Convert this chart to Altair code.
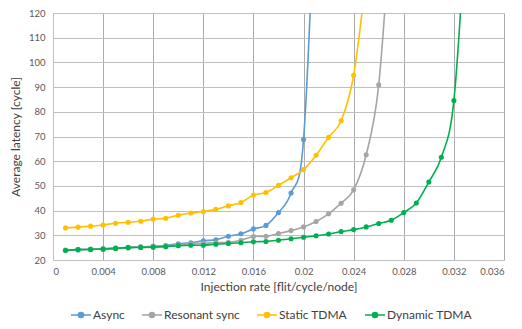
import altair as alt
import pandas as pd

series_names = ["Async", "Resonant sync", "Static TDMA", "Dynamic TDMA"]
series_colors = ["#5B9BD5", "#A5A5A5", "#FFC000", "#00B050"]

async_rate = [0.001, 0.002, 0.003, 0.004, 0.005, 0.006, 0.007, 0.008, 0.009, 0.010,
              0.011, 0.012, 0.013, 0.014, 0.015, 0.016, 0.017, 0.018, 0.019, 0.020, 0.021]
async_lat = [23.9, 24.2, 24.3, 24.5, 24.8, 25.1, 25.3, 25.6, 25.9, 26.6,
             27.0, 27.8, 28.2, 29.6, 30.6, 32.6, 34.0, 39.2, 47.1, 68.8, 180]

reso_rate = [0.001, 0.002, 0.003, 0.004, 0.005, 0.006, 0.007, 0.008, 0.009, 0.010,
             0.011, 0.012, 0.013, 0.014, 0.015, 0.016, 0.017, 0.018, 0.019, 0.020,
             0.021, 0.022, 0.023, 0.024, 0.025, 0.026, 0.027]
reso_lat = [23.9, 24.2, 24.3, 24.5, 24.7, 25.0, 25.2, 25.4, 25.7, 26.2,
            26.6, 26.8, 27.0, 27.2, 28.0, 29.5, 29.6, 30.7, 31.9, 33.4,
            35.6, 38.7, 43.0, 48.4, 62.6, 90.9, 160]

static_rate = [0.001, 0.002, 0.003, 0.004, 0.005, 0.006, 0.007, 0.008, 0.009, 0.010,
               0.011, 0.012, 0.013, 0.014, 0.015, 0.016, 0.017, 0.018, 0.019, 0.020,
               0.021, 0.022, 0.023, 0.024, 0.025]
static_lat = [33.0, 33.3, 33.7, 34.2, 34.9, 35.3, 35.7, 36.6, 36.9, 38.1,
              39.0, 39.6, 40.5, 41.9, 43.3, 46.3, 47.3, 50.2, 53.3, 56.6,
              62.4, 69.7, 76.4, 94.8, 135]

dyn_rate = [0.001, 0.002, 0.003, 0.004, 0.005, 0.006, 0.007, 0.008, 0.009, 0.010,
            0.011, 0.012, 0.013, 0.014, 0.015, 0.016, 0.017, 0.018, 0.019, 0.020,
            0.021, 0.022, 0.023, 0.024, 0.025, 0.026, 0.027, 0.028, 0.029, 0.030,
            0.031, 0.032, 0.033]
dyn_lat = [23.9, 24.2, 24.3, 24.4, 24.7, 25.0, 25.1, 25.2, 25.4, 25.8,
           26.0, 26.0, 26.4, 26.7, 27.0, 27.4, 27.5, 28.0, 28.6, 29.2,
           29.8, 30.5, 31.5, 32.3, 33.4, 34.8, 36.1, 39.2, 43.1, 51.6,
           61.6, 84.6, 160]

x_ticks = [0, 0.004, 0.008, 0.012, 0.016, 0.02, 0.024, 0.028, 0.032, 0.036]
y_ticks = [20, 30, 40, 50, 60, 70, 80, 90, 100, 110, 120]

all_series = [
    ("Async", async_rate, async_lat),
    ("Resonant sync", reso_rate, reso_lat),
    ("Static TDMA", static_rate, static_lat),
    ("Dynamic TDMA", dyn_rate, dyn_lat),
]

FONT = "Lato"

x_enc = alt.X("rate:Q",
              scale=alt.Scale(domain=[0, 0.036], nice=False),
              axis=alt.Axis(values=x_ticks, format="~f",
                            title="Injection rate [flit/cycle/node]"))
y_enc = alt.Y("lat:Q",
              scale=alt.Scale(domain=[20, 120], nice=False, zero=False),
              axis=alt.Axis(values=y_ticks, title="Average latency [cycle]"))
color_enc = alt.Color("series:N",
                      scale=alt.Scale(domain=series_names, range=series_colors),
                      legend=alt.Legend(
                          title=None, orient="none", direction="horizontal",
                          legendX=22, legendY=296,
                          symbolType="M-2,0L2,0M-0.5,0A0.5,0.5 0 1,1 0.5,0A0.5,0.5 0 1,1 -0.5,0",
                          symbolSize=100, symbolStrokeWidth=1.6,
                          labelFontSize=12, labelFont=FONT, labelColor="#404040",
                          labelOffset=6, columnPadding=13))

layers = []
for name, rates, lats in all_series:
    df = pd.DataFrame({"rate": rates, "lat": lats, "series": name})
    base = alt.Chart(df)
    line = base.mark_line(interpolate="cardinal", strokeWidth=1.6, clip=True).encode(
        x=x_enc, y=y_enc, color=color_enc)
    pts = base.mark_circle(size=26, opacity=1, clip=True).encode(
        x=x_enc, y=y_enc, color=color_enc)
    layers += [line, pts]

chart = alt.layer(*layers).properties(
    width=451, height=247,
    autosize=alt.AutoSizeParams(type="none"),
    padding={"left": 45, "top": 5, "right": 10, "bottom": 61},
).configure_view(stroke=None).configure_axis(
    grid=True, gridColor="#bfbfbf", gridWidth=1,
    domainColor="#bfbfbf", ticks=False,
    labelFont=FONT, labelFontSize=9.5, labelColor="#595959",
    titleFont=FONT, titleFontSize=12, titleColor="#404040", titleFontWeight="normal",
).configure_axisX(labelPadding=6, titlePadding=6, gridColor="#ababab").configure_axisY(
    labelPadding=8, titlePadding=6)

chart.save("out.html", embed_options={"renderer": "svg", "actions": False})
